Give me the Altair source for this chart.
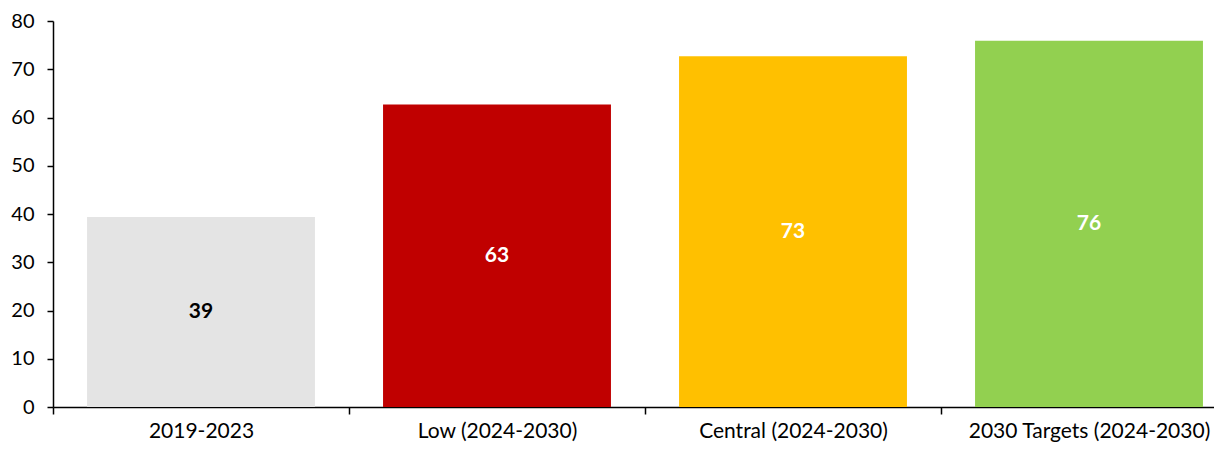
import altair as alt
import pandas as pd

categories = ["2019-2023", "Low (2024-2030)", "Central (2024-2030)", "2030 Targets (2024-2030)"]
values = [39.4, 62.7, 72.7, 75.9]
bar_colors = ["#E4E4E4", "#C00000", "#FFC000", "#92D050"]
label_colors = ["#000000", "#FFFFFF", "#FFFFFF", "#FFFFFF"]
y_ticks = [0, 10, 20, 30, 40, 50, 60, 70, 80]

df = pd.DataFrame({
    "category": categories,
    "value": values,
    "bar_color": bar_colors,
    "label_color": label_colors,
})

x_enc = alt.X(
    "category:N",
    sort=categories,
    title=None,
    scale=alt.Scale(range=[0, 1184], paddingInner=0, paddingOuter=0),
    axis=alt.Axis(labelAngle=0, tickBand="extent", tickSize=7, labelPadding=6,
                  labelLimit=0, domainWidth=1.5, tickWidth=1.5),
)

base = alt.Chart(df)

bars = base.mark_bar(width=alt.RelativeBandSize(0.77)).encode(
    x=x_enc,
    y=alt.Y("value:Q", title=None,
            scale=alt.Scale(domain=[0, 80], nice=False),
            axis=alt.Axis(values=y_ticks, grid=False, tickSize=6, labelPadding=13,
                          labelFontSize=20, domainWidth=1.5, tickWidth=1.5)),
    color=alt.Color("bar_color:N", scale=None),
)

labels = base.transform_calculate(mid="datum.value / 2").mark_text(
    font="Lato", fontWeight="bold", fontSize=21, baseline="middle", align="center"
).encode(
    x=alt.X("category:N", sort=categories),
    y=alt.Y("mid:Q"),
    text=alt.Text("value:Q", format=".0f"),
    color=alt.Color("label_color:N", scale=None),
)

chart = alt.layer(bars, labels).properties(
    width=1161,
    height=386,
    autosize=alt.AutoSizeParams(type="none"),
    padding={"left": 45, "top": 13, "right": 0, "bottom": 38},
).configure_view(stroke=None).configure_axis(
    labelFont="Lato",
    labelFontSize=21,
    labelColor="#000000",
    domainColor="#000000",
    tickColor="#000000",
)

chart.save("out.html", embed_options={"renderer": "svg", "actions": False})
